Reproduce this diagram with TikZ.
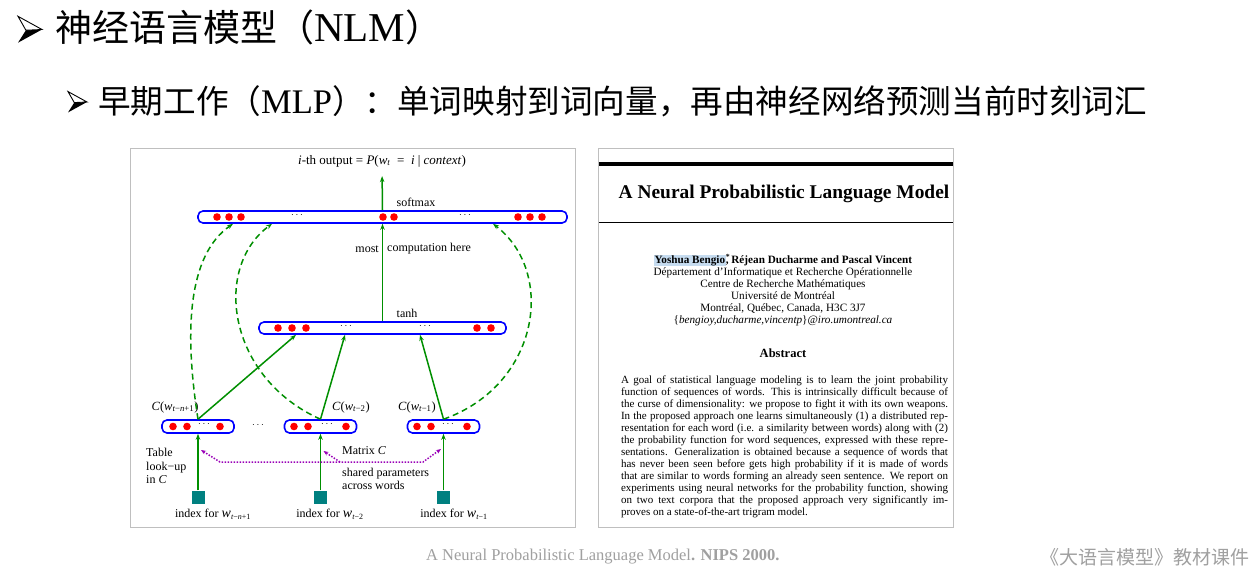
\documentclass[tikz,border=0pt]{standalone}
\usepackage{fontspec}
\setmainfont{Liberation Serif}
\newfontfamily\cjk{Noto Sans CJK SC}
\usetikzlibrary{arrows.meta,calc}
\definecolor{dgreen}{HTML}{008F00}
\definecolor{barblue}{HTML}{0000FF}
\definecolor{dotred}{HTML}{FF0000}
\definecolor{tealsq}{HTML}{008080}
\definecolor{purp}{HTML}{9A00B8}
\definecolor{panelgray}{HTML}{BFBFBF}
\definecolor{capgray}{HTML}{A0A0A0}
\definecolor{hlblue}{HTML}{C6DCF0}
\newcommand\absline[1]{\makebox[327pt][s]{#1}}
\newcommand\headarrow[3]{%
  \begin{scope}[shift={(#1,#2)},scale=#3]
    \fill[black] (0,0.55) -- (1,0) -- (0.33,0.03) -- cycle;
    \draw[black,line width=0.9pt,line join=miter,fill=white] (0,-0.55) -- (1,0) -- (0.33,0.03) -- cycle;
  \end{scope}}
\begin{document}
\begin{tikzpicture}[x=1pt,y=-1pt,
  bar/.style={draw=barblue, line width=1.6pt, rounded corners=5pt, minimum height=12pt, inner sep=0pt},
  sq/.style={fill=tealsq, minimum size=13pt, inner sep=0pt},
  lbl/.style={font=\fontsize{12}{13.5}\selectfont, inner sep=0pt},
  ellip/.style={font=\fontsize{10}{10}\selectfont, inner sep=0pt},
  garrow/.style={draw=dgreen, line width=1.5pt, -{Stealth[length=6pt,width=4.5pt]}},
  gdash/.style={garrow, dash pattern=on 6pt off 4pt},
  parrow/.style={draw=purp, line width=1.5pt, dash pattern=on 1.5pt off 1.5pt},
  pboth/.style={{Stealth[length=5pt,width=4pt]}-{Stealth[length=5pt,width=4pt]}},
  pend/.style={-{Stealth[length=5pt,width=4pt]}},
  panel/.style={draw=panelgray, line width=1pt},
  papertxt/.style={inner sep=0pt, align=center, font=\fontsize{11.2}{12}\selectfont},
  captxt/.style={inner sep=0pt, text=capgray},
]
\useasboundingbox (0,0) rectangle (1254,571);
\fill[white] (0,0) rectangle (1254,571);

% ---------- titles ----------
\headarrow{18}{29.5}{24}
\node[anchor=base west, inner sep=0pt, font=\fontsize{41}{44}\selectfont] (title) at (55,41)
  {{\cjk\fontsize{37}{40}\selectfont 神经语言模型（}NLM{\cjk\fontsize{37}{40}\selectfont ）}};
\headarrow{68}{102}{19}
\node[anchor=base west, inner sep=0pt, font=\fontsize{34.5}{38}\selectfont] (subtitle) at (98,113)
  {{\cjk\fontsize{32.6}{36}\selectfont 早期工作（}MLP{\cjk\fontsize{32.6}{36}\selectfont ）：单词映射到词向量，再由神经网络预测当前时刻词汇}};

% ---------- panels ----------
\draw[panel] (130.5,148.5) rectangle (575.5,527.5);
\draw[panel] (598.5,148.5) rectangle (953.5,527.5);

% ---------- left diagram ----------
\node[bar, minimum width=369pt] (top) at (382.5,217) {};
\node[bar, minimum width=247pt] (tanh) at (382.5,328) {};
\node[bar, minimum width=72pt, minimum height=13pt] (embL) at (198,426.5) {};
\node[bar, minimum width=72pt, minimum height=13pt] (embM) at (320.5,426.5) {};
\node[bar, minimum width=72pt, minimum height=13pt] (embR) at (443.5,426.5) {};

\foreach \x in {217,229,241,383,394,518,530,542} \fill[dotred] (\x,217) circle (3.8);
\foreach \x in {278,292,306,477,491} \fill[dotred] (\x,328) circle (3.8);
\foreach \x in {173,187,220,294,308,346,417,431,467} \fill[dotred] (\x,426.5) circle (3.8);

\node[ellip] (e1) at (297,215) {$\cdots$};
\node[ellip] (e2) at (465,215) {$\cdots$};
\node[ellip] (e3) at (346,326) {$\cdots$};
\node[ellip] (e4) at (425,326) {$\cdots$};
\node[ellip] (e5) at (204,424.5) {$\cdots$};
\node[ellip] (e6) at (327,424.5) {$\cdots$};
\node[ellip] (e7) at (448,424.5) {$\cdots$};
\node[ellip] (e8) at (258,425) {$\cdots$};

\node[lbl, font=\fontsize{13}{14}\selectfont] (out) at (382,161) {\textit{i}-th output = \textit{P}(\textit{w}\textsubscript{\textit{t}}\enspace=\enspace\textit{i}~|~\textit{context})};
\node[lbl] (sm) at (416,202) {softmax};
\node[lbl] (th) at (407,313) {tanh};
\node[lbl, anchor=east] (most) at (379,249) {most};
\node[lbl, anchor=west] (comp) at (387,249) {computation here};

\node[lbl, font=\fontsize{12.5}{14}\selectfont] (cL) at (175,407) {\textit{C}(\textit{w}\textsubscript{\textit{t}−\textit{n}+1})};
\node[lbl, font=\fontsize{12.5}{14}\selectfont] (cM) at (351,407) {\textit{C}(\textit{w}\textsubscript{\textit{t}−2})};
\node[lbl, font=\fontsize{12.5}{14}\selectfont] (cR) at (417,407) {\textit{C}(\textit{w}\textsubscript{\textit{t}−1})};

\node[sq] (sqL) at (198,497) {};
\node[sq] (sqM) at (320.5,497) {};
\node[sq] (sqR) at (443.5,497) {};

\node[lbl] (iL) at (213,514) {index for {\fontsize{14}{14}\selectfont\textit{w}}\textsubscript{\textit{t}−\textit{n}+1}};
\node[lbl] (iM) at (330,514) {index for {\fontsize{14}{14}\selectfont\textit{w}}\textsubscript{\textit{t}−2}};
\node[lbl] (iR) at (454,514) {index for {\fontsize{14}{14}\selectfont\textit{w}}\textsubscript{\textit{t}−1}};

\node[lbl, align=left, anchor=west] (table) at (146,466) {Table\\ look−up\\ in \textit{C}};
\node[lbl, anchor=west] (mat) at (342,451) {Matrix \textit{C}};
\node[lbl, align=left, anchor=west, font=\fontsize{12}{12.5}\selectfont] (shared) at (342,479) {shared parameters\\ across words};

% connectors
\draw[garrow] (sqL.north) -- (embL.south);
\draw[garrow] (sqM.north) -- (embM.south);
\draw[garrow] (sqR.north) -- (embR.south);
\draw[garrow] (embL.north) -- ($(tanh.south)+(-86.5,0)$);
\draw[garrow] (embM.north) -- ($(tanh.south)+(-37.5,0)$);
\draw[garrow] (embR.north) -- ($(tanh.south)+(37.5,0)$);
\draw[garrow] (tanh.north) -- (top.south);
\draw[garrow, shorten >=9pt] (top.north) -- (out.south);

\draw[gdash] (embL.north) .. controls (184,330) and (188,255) .. ($(top.south)+(-149.5,0)$);
\draw[gdash] (embM.north) .. controls (228,378) and (212,268) .. ($(top.south)+(-110.5,0)$);
\draw[gdash] (embR.north) .. controls (540,385) and (556,272) .. ($(top.south)+(110.5,0)$);

\coordinate (pL) at (201,450);
\coordinate (pM) at (323.5,451);
\coordinate (pR) at (441,449);
\coordinate (pB) at (340,462);
\draw[parrow, pboth] (pL) -- (220,462) -- (423,462) -- (pR);
\draw[parrow, pend] (pB) -- (pM);

% ---------- right panel: paper ----------
\draw[line width=4pt] (599,164) -- (953,164);
\draw[line width=0.9pt] (599,222) -- (953,222);
\node[inner sep=0pt, font=\bfseries\fontsize{19.4}{22}\selectfont] (ptitle) at (784,194) {A Neural Probabilistic Language Model};

\node[papertxt] (auth) at (783,290)
  {\textbf{{\setlength\fboxsep{0.6pt}\colorbox{hlblue}{Yoshua Bengio}}\rlap{\textsuperscript{*}}, Réjean Ducharme and Pascal Vincent}\\
   Département d’Informatique et Recherche Opérationnelle\\
   Centre de Recherche Mathématiques\\
   Université de Montréal\\
   Montréal, Québec, Canada, H3C 3J7\\
   \{\textit{bengioy,ducharme,vincentp}\}\textit{@iro.umontreal.ca}};

\node[inner sep=0pt, font=\bfseries\fontsize{12.5}{14}\selectfont] (abs) at (783,353) {Abstract};

\node[inner sep=0pt, align=left, font=\fontsize{11}{12}\selectfont] (abstext) at (784.5,447)
  {\absline{A goal of statistical language modeling is to learn the joint probability}\\
   \absline{function of sequences of words. This is intrinsically difficult because of}\\
   \absline{the curse of dimensionality: we propose to fight it with its own weapons.}\\
   \absline{In the proposed approach one learns simultaneously (1) a distributed rep-}\\
   \absline{resentation for each word (i.e. a similarity between words) along with (2)}\\
   \absline{the probability function for word sequences, expressed with these repre-}\\
   \absline{sentations. Generalization is obtained because a sequence of words that}\\
   \absline{has never been seen before gets high probability if it is made of words}\\
   \absline{that are similar to words forming an already seen sentence. We report on}\\
   \absline{experiments using neural networks for the probability function, showing}\\
   \absline{on two text corpora that the proposed approach very significantly im-}\\
   \makebox[327pt][l]{proves on a state-of-the-art trigram model.}};

% ---------- captions ----------
\node[captxt, anchor=west, font=\fontsize{16.5}{18}\selectfont] (cite) at (426,557)
  {A Neural Probabilistic Language Model\textbf{. NIPS 2000.}};
\node[captxt, anchor=east, font=\cjk\fontsize{19}{21}\selectfont] (course) at (1250,557)
  {《大语言模型》教材课件};
\end{tikzpicture}
\end{document}
